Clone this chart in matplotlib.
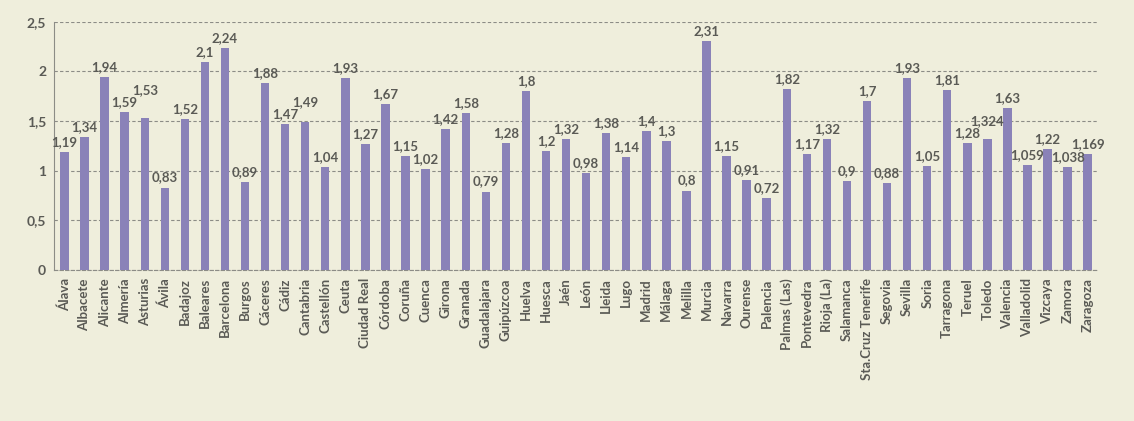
import matplotlib.pyplot as plt

provincias = ["Álava", "Albacete", "Alicante", "Almería", "Asturias", "Ávila", "Badajoz",
              "Baleares", "Barcelona", "Burgos", "Cáceres", "Cádiz", "Cantabria", "Castellón",
              "Ceuta", "Ciudad Real", "Córdoba", "Coruña", "Cuenca", "Girona", "Granada",
              "Guadalajara", "Guipúzcoa", "Huelva", "Huesca", "Jaén", "León", "Lleida", "Lugo",
              "Madrid", "Málaga", "Melilla", "Murcia", "Navarra", "Ourense", "Palencia",
              "Palmas (Las)", "Pontevedra", "Rioja (La)", "Salamanca", "Sta.Cruz Tenerife",
              "Segovia", "Sevilla", "Soria", "Tarragona", "Teruel", "Toledo", "Valencia",
              "Valladolid", "Vizcaya", "Zamora", "Zaragoza"]

valores = [1.19, 1.34, 1.94, 1.59, 1.53, 0.83, 1.52, 2.1, 2.24, 0.89, 1.88, 1.47, 1.49, 1.04,
           1.93, 1.27, 1.67, 1.15, 1.02, 1.42, 1.58, 0.79, 1.28, 1.8, 1.2, 1.32, 0.98, 1.38,
           1.14, 1.4, 1.3, 0.8, 2.31, 1.15, 0.91, 0.72, 1.82, 1.17, 1.32, 0.9, 1.7, 0.88,
           1.93, 1.05, 1.81, 1.28, 1.324, 1.63, 1.059, 1.22, 1.038, 1.169]

yticks = [0, 0.5, 1, 1.5, 2, 2.5]
ytick_labels = ["0", "0,5", "1", "1,5", "2", "2,5"]

fondo = "#efeedc"
texto = "#5a5a55"

plt.rcParams['font.family'] = ['Lato', 'DejaVu Sans']

fig = plt.figure(figsize=[11.34, 4.21], dpi=100, facecolor=fondo)
ax = fig.add_axes([0.048, 0.359, 0.92, 0.589])
ax.set_facecolor(fondo)

x = list(range(len(valores)))
ax.bar(x, valores, width=0.42, color="#8a82b8", zorder=3)

# etiquetas de valor con coma decimal; se suben si chocan con la anterior
prev_y = None
prev_raised = False
for i, v in zip(x, valores):
    y = v + 0.04
    raised = False
    if prev_y is not None and not prev_raised and abs(y - prev_y) < 0.08:
        y = prev_y + 0.12
        raised = True
    ax.text(i, y, str(v).replace('.', ','), ha="center", va="bottom",
            fontsize=9.5, fontweight="bold", color=texto, zorder=4)
    prev_y, prev_raised = y, raised

ax.set_xlim(-0.5, len(valores) - 0.5)
ax.set_ylim(0, 2.5)
ax.set_yticks(yticks)
ax.set_yticklabels(ytick_labels, fontsize=10, fontweight="bold", color=texto)
ax.set_xticks(x)
ax.set_xticklabels(provincias, rotation=90, fontsize=9.5, fontweight="bold", color=texto)
ax.tick_params(length=0, pad=6)

ax.grid(axis="y", color="#8c8c86", linestyle=(0, (3, 2)), linewidth=0.8, zorder=0)
for s in ["top", "right"]:
    ax.spines[s].set_visible(False)
ax.spines["left"].set_color("#8c8c86")
ax.spines["bottom"].set_color("#8c8c86")
ax.spines["bottom"].set_linestyle((0, (3, 2)))

fig.savefig("out.png", dpi=100, facecolor=fondo)
